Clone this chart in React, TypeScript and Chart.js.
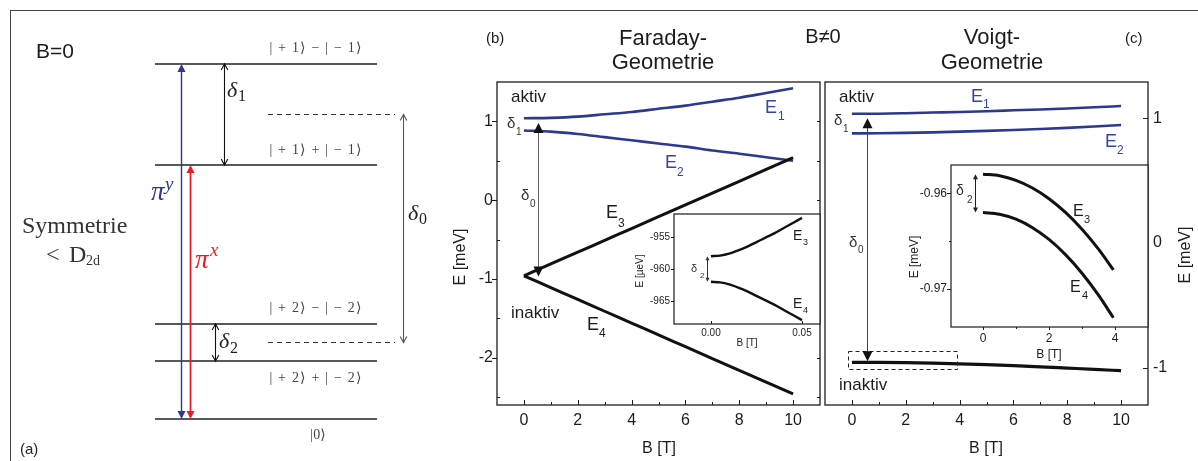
import React, { useEffect, useRef } from 'react';
import { Chart, registerables } from 'chart.js';

Chart.register(...registerables);

// ================= DATA =================
// (a) level scheme at B = 0 (arbitrary energy units, top to bottom)
const levelNames = ['| + 1⟩ − | − 1⟩', '| + 1⟩ + | − 1⟩', '| + 2⟩ − | − 2⟩', '| + 2⟩ + | − 2⟩', '|0⟩'];
const levelEnergies = [7.1, 5.08, 1.9, 1.16, 0];
const levelMidpoints = [6.09, 1.53];

// (b) Faraday geometry
const fieldT = [0, 1, 2, 3, 4, 5, 6, 7, 8, 9, 10];
const faradayE1 = [1.04, 1.045, 1.06, 1.09, 1.12, 1.16, 1.2, 1.25, 1.3, 1.36, 1.42];
const faradayE2 = [0.885, 0.87, 0.84, 0.8, 0.76, 0.72, 0.68, 0.63, 0.59, 0.545, 0.5];
const faradayE3 = [-0.96, -0.81, -0.66, -0.51, -0.36, -0.21, -0.06, 0.09, 0.24, 0.39, 0.54];
const faradayE4 = [-0.96, -1.11, -1.26, -1.41, -1.56, -1.71, -1.86, -2.01, -2.16, -2.31, -2.46];
const faradayXTicks = [0, 2, 4, 6, 8, 10];
const faradayYTicks = [1, 0, -1, -2];
const faradayArrow = { b: 0.52, top: 0.98, bottom: -0.97 };

// (b) inset (µeV)
const faradayInsetField = [0, 0.005, 0.01, 0.015, 0.02, 0.025, 0.03, 0.035, 0.04, 0.045, 0.05];
const faradayInsetE3 = [-958.0, -957.9, -957.6, -957.1, -956.5, -955.8, -955.1, -954.4, -953.6, -952.8, -952.0];
const faradayInsetE4 = [-962.0, -962.1, -962.4, -962.9, -963.5, -964.2, -964.9, -965.6, -966.4, -967.2, -968.0];
const faradayInsetXTicks = [0, 0.05];
const faradayInsetYTicks = [-955, -960, -965];

// (c) Voigt geometry
const voigtE1 = [1.035, 1.036, 1.04, 1.045, 1.05, 1.056, 1.063, 1.07, 1.078, 1.087, 1.097];
const voigtE2 = [0.878, 0.879, 0.882, 0.886, 0.892, 0.898, 0.905, 0.913, 0.922, 0.933, 0.945];
const voigtE34 = [-0.958, -0.959, -0.961, -0.965, -0.97, -0.977, -0.985, -0.994, -1.004, -1.014, -1.025];
const voigtXTicks = [0, 2, 4, 6, 8, 10];
const voigtYTicks = [1, 0, -1];
const voigtArrow = { b: 0.55, top: 1.0, bottom: -0.95 };
const voigtZoomBox = { b0: -0.15, b1: 3.9, e0: -0.87, e1: -1.015 };

// (c) inset (meV)
const voigtInsetField = [0, 0.5, 1, 1.5, 2, 2.5, 3, 3.5, 3.95];
const voigtInsetE3 = [-0.958, -0.95816, -0.95864, -0.95944, -0.96056, -0.962, -0.96376, -0.96584, -0.96799];
const voigtInsetE4 = [-0.962, -0.96218, -0.9627, -0.96359, -0.96482, -0.96641, -0.96835, -0.97064, -0.973];
const voigtInsetXTicks = [0, 2, 4];
const voigtInsetYTicks = [-0.96, -0.97];

// ================= STYLE =================
const SANS = '"Liberation Sans", Arial, Helvetica, sans-serif';
const SERIF = '"Liberation Serif", "DejaVu Serif", "Times New Roman", serif';
const INK = '#1c1c1c';
const BLUE = '#2b3990';
const BLUE_TXT = '#3445a3';
const RED = '#ec1c24';

// ================= HELPERS =================
type TO = { family?: string; color?: string; align?: CanvasTextAlign; italic?: boolean; spacing?: number };
function T(ctx: CanvasRenderingContext2D, s: string, x: number, y: number, size: number, o: TO = {}) {
  ctx.save();
  ctx.font = `${o.italic ? 'italic ' : ''}${size}px ${o.family ?? SANS}`;
  ctx.fillStyle = o.color ?? INK;
  ctx.textAlign = o.align ?? 'left';
  ctx.textBaseline = 'alphabetic';
  if (o.spacing) (ctx as any).letterSpacing = `${o.spacing}px`;
  ctx.fillText(s, x, y);
  ctx.restore();
}
function VT(ctx: CanvasRenderingContext2D, s: string, x: number, y: number, size: number, o: TO = {}) {
  ctx.save();
  ctx.translate(x, y);
  ctx.rotate(-Math.PI / 2);
  T(ctx, s, 0, 0, size, { ...o, align: 'center' });
  ctx.restore();
}
function vArrow(ctx: CanvasRenderingContext2D, x: number, y1: number, y2: number, color: string, lw: number, head: number, half: number, filled: boolean, headColor?: string) {
  ctx.save();
  ctx.strokeStyle = color;
  ctx.lineWidth = lw;
  ctx.beginPath();
  ctx.moveTo(x, y1 + (filled ? head * 0.8 : 0));
  ctx.lineTo(x, y2 - (filled ? head * 0.8 : 0));
  ctx.stroke();
  const hc = headColor ?? color;
  ctx.strokeStyle = hc;
  ctx.fillStyle = hc;
  const headAt = (tip: number, dir: number) => {
    ctx.beginPath();
    ctx.moveTo(x - half, tip - dir * head);
    ctx.lineTo(x, tip);
    ctx.lineTo(x + half, tip - dir * head);
    if (filled) { ctx.closePath(); ctx.fill(); } else ctx.stroke();
  };
  headAt(y1, -1);
  headAt(y2, 1);
  ctx.restore();
}
function frame(ctx: CanvasRenderingContext2D, a: any, lw = 1.3) {
  ctx.save();
  ctx.strokeStyle = INK;
  ctx.lineWidth = lw;
  ctx.strokeRect(a.left, a.top, a.right - a.left, a.bottom - a.top);
  ctx.restore();
}
function marks(ctx: CanvasRenderingContext2D, scale: any, values: number[], edge: number, len: number, dir: number, isX: boolean) {
  ctx.save();
  ctx.strokeStyle = INK;
  ctx.lineWidth = 1;
  ctx.beginPath();
  values.forEach((v) => {
    const p = Math.round(scale.getPixelForValue(v)) + 0.5;
    if (isX) { ctx.moveTo(p, edge); ctx.lineTo(p, edge + dir * len); }
    else { ctx.moveTo(edge, p); ctx.lineTo(edge + dir * len, p); }
  });
  ctx.stroke();
  ctx.restore();
}
function halfSteps(min: number, max: number, step: number) {
  const out: number[] = [];
  for (let k = Math.ceil(min / step - 0.5); k * step + step / 2 < max; k++) {
    const v = k * step + step / 2;
    if (v > min) out.push(v);
  }
  return out;
}
function series(xs: number[], ys: number[], color: string, width: number) {
  return {
    data: xs.map((x, i) => ({ x, y: ys[i] })),
    borderColor: color,
    borderWidth: width,
    pointRadius: 0,
    fill: false,
    cubicInterpolationMode: 'monotone' as const,
    borderCapStyle: 'butt' as const,
  };
}
function sub(ctx: CanvasRenderingContext2D, base: string, s: string, x: number, y: number, size: number, sx: number, sy: number, ssize: number, o: TO = {}) {
  T(ctx, base, x, y, size, o);
  T(ctx, s, sx, sy, ssize, { color: o.color, family: o.family });
}
function axis(min: number, max: number, position: string, values: number[], size: number, fontSize: number, pad: number, fmt?: (v: number) => string) {
  const horizontal = position === 'bottom';
  return {
    type: 'linear',
    position,
    min,
    max,
    grid: { display: false, drawTicks: false },
    border: { display: false },
    ticks: {
      autoSkip: false,
      maxRotation: 0,
      padding: pad,
      color: INK,
      font: { family: SANS, size: fontSize },
      callback: (v: number) => (fmt ? fmt(v) : String(v)),
    },
    afterBuildTicks: (s: any) => { s.ticks = values.map((v) => ({ value: v })); },
    afterFit: (s: any) => { if (horizontal) s.height = size; else s.width = size; },
  };
}
const baseOptions = {
  animation: false,
  responsive: false,
  maintainAspectRatio: false,
  events: [],
  plugins: { legend: { display: false }, tooltip: { enabled: false } },
};

// ================= PANEL (a) =================
const A_OX = 0;
function configA() {
  const datasets: any[] = [
    ...levelEnergies.map((e) => ({ data: [{ x: 15.5, y: e }, { x: 37.7, y: e }], borderColor: '#222', borderWidth: 1.4, pointRadius: 0 })),
    ...levelMidpoints.map((e) => ({ data: [{ x: 26.8, y: e }, { x: 39.5, y: e }], borderColor: '#333', borderWidth: 1.2, borderDash: [5, 4], pointRadius: 0 })),
  ];
  const decor = {
    id: 'decorA',
    afterDraw(chart: any) {
      const ctx: CanvasRenderingContext2D = chart.ctx;
      const X = chart.scales.x, Y = chart.scales.y;
      const py = (e: number) => Y.getPixelForValue(e);
      const px = (v: number) => Math.round(X.getPixelForValue(v)) + 0.5;
      ctx.save();
      ctx.translate(-A_OX, 0);
      // transitions
      vArrow(ctx, px(18.1), py(levelEnergies[0]), py(levelEnergies[4]), BLUE, 1.4, 8, 4, true);
      vArrow(ctx, px(19.0), py(levelEnergies[1]), py(levelEnergies[4]), RED, 1.8, 8, 4, true);
      vArrow(ctx, px(22.4), py(levelEnergies[0]), py(levelEnergies[1]), '#111', 1.1, 6, 3.3, false);
      vArrow(ctx, px(21.5), py(levelEnergies[2]), py(levelEnergies[3]), '#111', 1.1, 6, 3.3, false);
      vArrow(ctx, px(40.3), py(levelMidpoints[0]), py(levelMidpoints[1]), '#555', 1.1, 6, 3.3, false);
      // texts
      T(ctx, 'B=0', 36, 58, 21);
      const ketY = [52, 154, 312, 382, 439];
      levelNames.forEach((n, i) =>
        T(ctx, n, i === 4 ? 318 : 316, ketY[i], 14, { family: SERIF, color: '#444', align: 'center', spacing: i === 4 ? 0 : 1.2 })
      );
      T(ctx, 'Symmetrie', 22, 233, 24, { family: SERIF, color: '#333' });
      T(ctx, '<', 46, 262, 24, { family: SERIF, color: '#333' });
      T(ctx, 'D', 69, 262, 24, { family: SERIF, color: '#333' });
      T(ctx, '2d', 86, 265, 14, { family: SERIF, color: '#333' });
      T(ctx, 'π', 151, 200, 27, { family: SERIF, color: BLUE, italic: true });
      T(ctx, 'y', 165, 190, 19, { family: SERIF, color: BLUE, italic: true });
      T(ctx, 'π', 195, 268, 27, { family: SERIF, color: RED, italic: true });
      T(ctx, 'x', 210, 256, 19, { family: SERIF, color: RED, italic: true });
      sub(ctx, 'δ', '1', 227, 97, 22, 238, 101, 16, { family: SERIF, color: '#222', italic: true });
      sub(ctx, 'δ', '2', 219, 348, 22, 230, 353, 16, { family: SERIF, color: '#222', italic: true });
      sub(ctx, 'δ', '0', 408, 220, 22, 419, 224, 16, { family: SERIF, color: '#222', italic: true });
      T(ctx, '(a)', 20, 454, 15, { color: '#222' });
      ctx.restore();
    },
  };
  return {
    type: 'line',
    data: { datasets },
    options: {
      ...baseOptions,
      layout: { padding: 0 },
      scales: {
        x: { type: 'linear', min: 0, max: 44, display: false },
        y: { type: 'linear', min: -0.84, max: 8.38, display: false },
      },
    },
    plugins: [decor],
  };
}

// ================= PANEL (b) =================
const B_OX = 440;
function configB() {
  const decor = {
    id: 'decorB',
    afterDatasetsDraw(chart: any) {
      const ctx: CanvasRenderingContext2D = chart.ctx;
      const X = chart.scales.x, Y = chart.scales.y, a = chart.chartArea;
      frame(ctx, a);
      marks(ctx, X, faradayXTicks, a.bottom, 5, -1, true);
      marks(ctx, X, halfSteps(-1, 11, 2).filter((v) => v > -1 && v < 11), a.bottom, 3, -1, true);
      marks(ctx, Y, faradayYTicks, a.left, 5, -1, false);
      marks(ctx, Y, halfSteps(-2.6, 1.5, 1), a.left, 3, 1, false);
      marks(ctx, Y, [...faradayYTicks, ...halfSteps(-2.6, 1.5, 1)], a.right, 3, -1, false);
      const ax = X.getPixelForValue(faradayArrow.b);
      vArrow(ctx, Math.round(ax) + 0.5, Y.getPixelForValue(faradayArrow.top), Y.getPixelForValue(faradayArrow.bottom), '#666', 1, 10, 5, true, '#111');
    },
    afterDraw(chart: any) {
      const ctx: CanvasRenderingContext2D = chart.ctx;
      ctx.save();
      ctx.translate(-B_OX, 0);
      T(ctx, '(b)', 486, 42.5, 15);
      T(ctx, 'Faraday-', 663, 45, 22, { align: 'center' });
      T(ctx, 'Geometrie', 663, 69, 22, { align: 'center' });
      T(ctx, 'aktiv', 511, 101.5, 17);
      T(ctx, 'inaktiv', 511, 318, 17);
      sub(ctx, 'δ', '1', 507, 128, 15, 516, 135, 10, { color: '#333' });
      sub(ctx, 'δ', '0', 521, 200, 15, 530, 207, 10, { color: '#333' });
      sub(ctx, 'E', '1', 765, 112.7, 18, 778, 120, 12, { color: BLUE_TXT });
      sub(ctx, 'E', '2', 665, 168, 18, 677, 176, 12, { color: BLUE_TXT });
      sub(ctx, 'E', '3', 606, 218, 18, 618, 227, 12, { color: INK });
      sub(ctx, 'E', '4', 587, 330, 18, 599, 337, 12, { color: INK });
      T(ctx, 'B [T]', 659, 453, 16, { align: 'center' });
      VT(ctx, 'E [meV]', 465, 257, 16);
      ctx.restore();
    },
  };
  return {
    type: 'line',
    data: {
      datasets: [
        series(fieldT, faradayE3, '#111', 3),
        series(fieldT, faradayE4, '#111', 3),
        series(fieldT, faradayE1, BLUE, 2.6),
        series(fieldT, faradayE2, BLUE, 2.6),
      ],
    },
    options: {
      ...baseOptions,
      layout: { padding: { top: 82, right: 2, left: 0, bottom: 0 } },
      scales: {
        x: axis(-1, 11, 'bottom', faradayXTicks, 56, 16, 6),
        y: axis(-2.6, 1.5, 'left', faradayYTicks, 57, 16, 4),
      },
    },
    plugins: [decor],
  };
}

// ================= INSET (b) =================
const BI_OX = 620, BI_OY = 200;
function configBI() {
  const decor = {
    id: 'decorBI',
    beforeDraw(chart: any) {
      const ctx: CanvasRenderingContext2D = chart.ctx, a = chart.chartArea;
      ctx.save();
      ctx.fillStyle = '#fff';
      ctx.fillRect(a.left, a.top, a.right - a.left, a.bottom - a.top);
      ctx.restore();
    },
    afterDatasetsDraw(chart: any) {
      const ctx: CanvasRenderingContext2D = chart.ctx;
      const X = chart.scales.x, Y = chart.scales.y, a = chart.chartArea;
      frame(ctx, a, 1.2);
      marks(ctx, X, faradayInsetXTicks, a.bottom, 3, -1, true);
      marks(ctx, Y, faradayInsetYTicks, a.left, 3, -1, false);
      const ax = Math.round(X.getPixelForValue(-0.0022)) + 0.5;
      vArrow(ctx, ax, Y.getPixelForValue(faradayInsetE3[0]), Y.getPixelForValue(faradayInsetE4[0]), '#333', 1, 4, 2, true);
    },
    afterDraw(chart: any) {
      const ctx: CanvasRenderingContext2D = chart.ctx;
      ctx.save();
      ctx.translate(-BI_OX, -BI_OY);
      sub(ctx, 'δ', '2', 691, 272, 11, 700, 278, 8, { color: '#333' });
      sub(ctx, 'E', '3', 793, 240, 14, 803, 245, 9, { color: INK });
      sub(ctx, 'E', '4', 793, 308, 14, 803, 313, 9, { color: INK });
      T(ctx, 'B [T]', 747, 346, 10, { align: 'center' });
      VT(ctx, 'E [µeV]', 643, 271, 10);
      ctx.restore();
    },
  };
  return {
    type: 'line',
    data: {
      datasets: [
        series(faradayInsetField, faradayInsetE3, '#111', 2.4),
        series(faradayInsetField, faradayInsetE4, '#111', 2.4),
      ],
    },
    options: {
      ...baseOptions,
      layout: { padding: { top: 14, right: 2, left: 0, bottom: 0 } },
      scales: {
        x: axis(-0.0203, 0.0599, 'bottom', faradayInsetXTicks, 36, 10, 3, (v) => v.toFixed(2)),
        y: axis(-968.6, -951.4, 'left', faradayInsetYTicks, 54, 10, 4),
      },
    },
    plugins: [decor],
  };
}

// ================= PANEL (c) =================
const C_OX = 790;
function configC() {
  const decor = {
    id: 'decorC',
    afterDatasetsDraw(chart: any) {
      const ctx: CanvasRenderingContext2D = chart.ctx;
      const X = chart.scales.x, Y = chart.scales.y, a = chart.chartArea;
      frame(ctx, a);
      marks(ctx, X, voigtXTicks, a.bottom, 5, -1, true);
      marks(ctx, X, halfSteps(-1, 11, 2).filter((v) => v > -1 && v < 11), a.bottom, 3, -1, true);
      marks(ctx, Y, voigtYTicks, a.right, 5, -1, false);
      marks(ctx, Y, halfSteps(-1.3, 1.29, 1), a.right, 3, -1, false);
      // zoom box
      ctx.save();
      ctx.strokeStyle = '#222';
      ctx.lineWidth = 1;
      ctx.setLineDash([4, 3]);
      const x0 = Math.round(X.getPixelForValue(voigtZoomBox.b0)) + 0.5, x1 = Math.round(X.getPixelForValue(voigtZoomBox.b1)) + 0.5;
      const y0 = Math.round(Y.getPixelForValue(voigtZoomBox.e0)) + 0.5, y1 = Math.round(Y.getPixelForValue(voigtZoomBox.e1)) + 0.5;
      ctx.strokeRect(x0, y0, x1 - x0, y1 - y0);
      ctx.restore();
      const ax = Math.round(X.getPixelForValue(voigtArrow.b)) + 0.5;
      vArrow(ctx, ax, Y.getPixelForValue(voigtArrow.top), Y.getPixelForValue(voigtArrow.bottom), '#444', 1, 10, 5, true, '#111');
    },
    afterDraw(chart: any) {
      const ctx: CanvasRenderingContext2D = chart.ctx;
      ctx.save();
      ctx.translate(-C_OX, 0);
      T(ctx, 'B≠0', 823, 43, 20, { align: 'center' });
      T(ctx, 'Voigt-', 992, 44, 22, { align: 'center' });
      T(ctx, 'Geometrie', 992, 69, 22, { align: 'center' });
      T(ctx, '(c)', 1125, 42.5, 15);
      T(ctx, 'aktiv', 839, 101.5, 17);
      T(ctx, 'inaktiv', 839, 390, 17);
      sub(ctx, 'δ', '1', 834, 125, 15, 843, 132, 10, { color: '#333' });
      sub(ctx, 'δ', '0', 849, 247, 15, 858, 253, 10, { color: '#333' });
      sub(ctx, 'E', '1', 971, 102, 18, 983, 108, 12, { color: BLUE_TXT });
      sub(ctx, 'E', '2', 1105, 147, 18, 1117, 154, 12, { color: BLUE_TXT });
      T(ctx, 'B [T]', 986, 453, 16, { align: 'center' });
      VT(ctx, 'E [meV]', 1190, 255, 16);
      ctx.restore();
    },
  };
  return {
    type: 'line',
    data: {
      datasets: [
        series(fieldT, voigtE34, '#111', 3.2),
        series(fieldT, voigtE1, BLUE, 2.6),
        series(fieldT, voigtE2, BLUE, 2.6),
      ],
    },
    options: {
      ...baseOptions,
      layout: { padding: { top: 82, right: 0, left: 35, bottom: 0 } },
      scales: {
        x: axis(-1, 11, 'bottom', voigtXTicks, 56, 16, 6),
        y: axis(-1.3, 1.29, 'right', voigtYTicks, 50, 16, 5),
      },
    },
    plugins: [decor],
  };
}

// ================= INSET (c) =================
const CI_OX = 890, CI_OY = 150;
function configCI() {
  const decor = {
    id: 'decorCI',
    beforeDraw(chart: any) {
      const ctx: CanvasRenderingContext2D = chart.ctx, a = chart.chartArea;
      ctx.save();
      ctx.fillStyle = '#fff';
      ctx.fillRect(a.left, a.top, a.right - a.left, a.bottom - a.top);
      ctx.restore();
    },
    afterDatasetsDraw(chart: any) {
      const ctx: CanvasRenderingContext2D = chart.ctx;
      const X = chart.scales.x, Y = chart.scales.y, a = chart.chartArea;
      frame(ctx, a, 1.2);
      marks(ctx, X, voigtInsetXTicks, a.bottom, 3, 1, true);
      marks(ctx, X, [1, 3], a.bottom, 2, 1, true);
      marks(ctx, Y, voigtInsetYTicks, a.left, 4, -1, false);
      marks(ctx, Y, [-0.965], a.left, 2, -1, false);
      const ax = Math.round(X.getPixelForValue(-0.24)) + 0.5;
      vArrow(ctx, ax, Y.getPixelForValue(voigtInsetE3[0]), Y.getPixelForValue(voigtInsetE4[0]), '#222', 1, 5, 2.5, true);
    },
    afterDraw(chart: any) {
      const ctx: CanvasRenderingContext2D = chart.ctx;
      ctx.save();
      ctx.translate(-CI_OX, -CI_OY);
      sub(ctx, 'δ', '2', 956, 195, 14, 967, 203, 10, { color: '#333' });
      sub(ctx, 'E', '3', 1073, 216, 16, 1084, 223, 11, { color: INK });
      sub(ctx, 'E', '4', 1070, 292, 16, 1082, 299, 11, { color: INK });
      T(ctx, 'B [T]', 1049, 358, 12, { align: 'center' });
      VT(ctx, 'E [meV]', 918, 257, 12);
      ctx.restore();
    },
  };
  return {
    type: 'line',
    data: {
      datasets: [
        series(voigtInsetField, voigtInsetE3, '#111', 3),
        series(voigtInsetField, voigtInsetE4, '#111', 3),
      ],
    },
    options: {
      ...baseOptions,
      layout: { padding: { top: 15, right: 2, left: 0, bottom: 0 } },
      scales: {
        x: axis(-0.97, 5, 'bottom', voigtInsetXTicks, 38, 12, 4),
        y: axis(-0.97397, -0.95704, 'left', voigtInsetYTicks, 61, 12, 4, (v) => v.toFixed(2)),
      },
    },
    plugins: [decor],
  };
}

// ================= COMPONENT =================
function ChartCanvas({ make, left, top, width, height }: { make: () => any; left: number; top: number; width: number; height: number }) {
  const ref = useRef<HTMLCanvasElement | null>(null);
  useEffect(() => {
    if (!ref.current) return;
    const chart = new Chart(ref.current, make());
    return () => chart.destroy();
  }, []);
  return (
    <canvas
      ref={ref}
      width={width}
      height={height}
      style={{ position: 'absolute', left, top, width, height, display: 'block' }}
    />
  );
}

export default function App() {
  return (
    <div style={{ position: 'absolute', left: 0, top: 0, width: 1198, height: 461, background: '#fff', overflow: 'hidden' }}>
      <div style={{ position: 'absolute', left: 10, top: 10, width: 1200, height: 470, borderLeft: '1.5px solid #444', borderTop: '1.5px solid #444' }} />
      <ChartCanvas make={configA} left={0} top={0} width={440} height={461} />
      <ChartCanvas make={configB} left={440} top={0} width={382} height={461} />
      <ChartCanvas make={configBI} left={620} top={200} width={202} height={160} />
      <ChartCanvas make={configC} left={790} top={0} width={408} height={461} />
      <ChartCanvas make={configCI} left={890} top={150} width={260} height={215} />
    </div>
  );
}
